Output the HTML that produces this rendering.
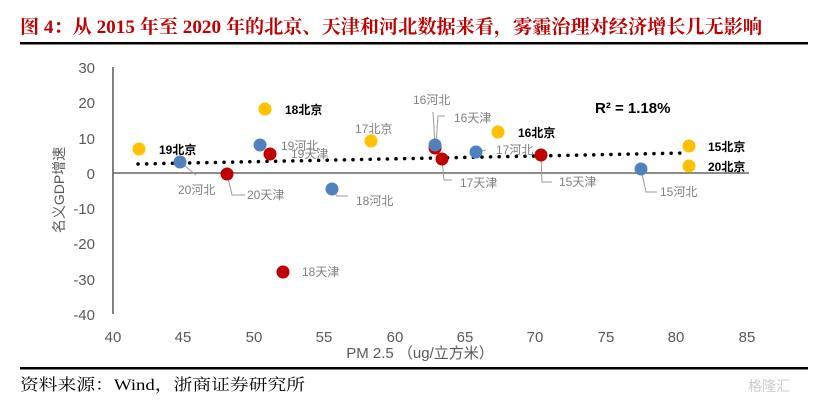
<!DOCTYPE html>
<html><head><meta charset="utf-8"><style>
html,body{margin:0;padding:0;background:#fff;width:821px;height:401px;overflow:hidden}
svg{display:block}
</style></head><body>
<svg width="821" height="401" xmlns="http://www.w3.org/2000/svg" font-family="'Liberation Sans','Noto Sans CJK SC',sans-serif">
<text x="20" y="33" font-family="'Liberation Serif','Noto Serif CJK SC',serif" font-weight="bold" font-size="19" fill="#C00000" textLength="742" lengthAdjust="spacingAndGlyphs">图 4：从 2015 年至 2020 年的北京、天津和河北数据来看，雾霾治理对经济增长几无影响</text>
<rect x="20" y="42" width="788" height="2.5" fill="#000"/>
<rect x="20" y="367" width="788" height="2.5" fill="#000"/>
<text x="20" y="390" font-family="'Liberation Serif','Noto Serif CJK SC',serif" font-size="16" fill="#000" textLength="285" lengthAdjust="spacingAndGlyphs">资料来源：Wind，浙商证券研究所</text>
<text x="748" y="391" font-size="14" fill="#ccc">格隆汇</text>
<line x1="113" y1="67" x2="113" y2="314" stroke="#000" stroke-width="1"/>
<line x1="113" y1="173" x2="749" y2="173" stroke="#666" stroke-width="1.5"/>
<g font-size="15" fill="#595959" text-anchor="end">
<text x="95" y="73">30</text><text x="95" y="108">20</text><text x="95" y="144">10</text><text x="95" y="179">0</text>
<text x="95" y="214">-10</text><text x="95" y="249">-20</text><text x="95" y="285">-30</text><text x="95" y="320">-40</text>
</g>
<g font-size="15" fill="#595959" text-anchor="middle">
<text x="113" y="342">40</text><text x="183" y="342">45</text><text x="254" y="342">50</text><text x="324" y="342">55</text><text x="395" y="342">60</text>
<text x="465" y="342">65</text><text x="535" y="342">70</text><text x="606" y="342">75</text><text x="676" y="342">80</text><text x="747" y="342">85</text>
<text x="420" y="358">PM 2.5 （ug/立方米）</text>
</g>
<text transform="translate(64,190) rotate(-90)" font-size="14" fill="#595959" text-anchor="middle">名义GDP增速</text>
<line x1="138" y1="164" x2="684" y2="153" stroke="#000" stroke-width="3.5" stroke-dasharray="0.1 8.5" stroke-linecap="round"/>
<g stroke="#999" stroke-width="1" fill="none">
<polyline points="180,162 196,175"/>
<polyline points="227,174 232,195 245,195"/>
<polyline points="332,189 337,196 348,196"/>
<polyline points="433,112 435,145"/>
<polyline points="436,144 438,116 445,116"/>
<polyline points="442,159 444,180 452,180"/>
<polyline points="476,152 486,150"/>
<polyline points="541,155 542,182 552,182"/>
<polyline points="641,169 646,192 657,192"/>
</g>
<g fill="#FFC000">
<circle cx="139" cy="149" r="6.5"/><circle cx="265" cy="109" r="6.5"/><circle cx="371" cy="141" r="6.5"/>
<circle cx="498" cy="132" r="6.5"/><circle cx="689" cy="146" r="6.5"/><circle cx="689" cy="166" r="6.5"/>
</g>
<g fill="#C00000">
<circle cx="227" cy="174" r="6.5"/><circle cx="270" cy="154" r="6.5"/><circle cx="435" cy="148" r="6.5"/>
<circle cx="442" cy="159" r="6.5"/><circle cx="541" cy="155" r="6.5"/><circle cx="283" cy="272" r="6.5"/>
</g>
<g fill="#4F81BD">
<circle cx="180" cy="162" r="6.5"/><circle cx="260" cy="145" r="6.5"/><circle cx="332" cy="189" r="6.5"/>
<circle cx="435" cy="145" r="6.5"/><circle cx="476" cy="152" r="6.5"/><circle cx="641" cy="169" r="6.5"/>
</g>
<g font-size="12" font-weight="bold" fill="#000">
<text x="159" y="154">19北京</text><text x="285" y="114">18北京</text><text x="518" y="137">16北京</text>
<text x="708" y="151">15北京</text><text x="708" y="171">20北京</text>
</g>
<g font-size="12" fill="#7f7f7f">
<text x="281" y="150">19河北</text><text x="291" y="158">19天津</text>
<text x="355" y="133">17北京</text><text x="413" y="104">16河北</text><text x="454" y="122">16天津</text>
<text x="496" y="154">17河北</text><text x="178" y="194">20河北</text><text x="247" y="199">20天津</text>
<text x="356" y="205">18河北</text><text x="460" y="187">17天津</text><text x="559" y="186">15天津</text>
<text x="660" y="196">15河北</text><text x="302" y="276">18天津</text>
</g>
<text x="595" y="113" font-size="15" font-weight="bold" fill="#000">R² = 1.18%</text>
</svg>
</body></html>
